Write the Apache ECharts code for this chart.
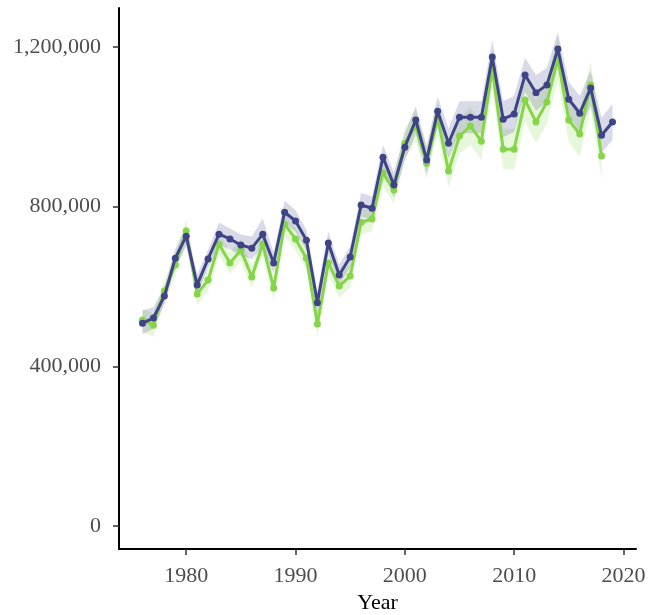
<!DOCTYPE html>
<html>
<head>
<meta charset="utf-8">
<script src="https://cdn.jsdelivr.net/npm/echarts@6/dist/echarts.min.js"></script>
<style>
html,body{margin:0;padding:0;background:#fff;}
#chart{width:650px;height:615px;}
</style>
</head>
<body>
<div id="chart"></div>
<script>
const years = [1976,1977,1978,1979,1980,1981,1982,1983,1984,1985,1986,1987,1988,1989,1990,1991,1992,1993,1994,1995,1996,1997,1998,1999,2000,2001,2002,2003,2004,2005,2006,2007,2008,2009,2010,2011,2012,2013,2014,2015,2016,2017,2018,2019];

const blueValues = [508000,521000,576000,671000,726000,604000,669000,731000,719000,704000,696000,731000,659000,786000,764000,716000,559000,709000,629000,674000,804000,796000,924000,854000,949000,1017000,917000,1039000,959000,1024000,1024000,1024000,1175000,1019000,1032000,1130000,1085000,1105000,1195000,1069000,1034000,1097000,979000,1012000];
const blueLow = [480000,495000,555000,648000,700000,580000,647000,703000,693000,677000,668000,700000,632000,757000,737000,690000,530000,682000,603000,648000,775000,766000,893000,822000,915000,982000,882000,1002000,922000,984000,984000,984000,1133000,974000,987000,1087000,1040000,1062000,1153000,1026000,990000,1053000,935000,967000];
const blueHigh = [540000,548000,597000,694000,752000,630000,692000,760000,745000,730000,725000,770000,686000,815000,791000,742000,588000,737000,655000,700000,834000,826000,955000,886000,983000,1052000,952000,1076000,996000,1064000,1064000,1064000,1217000,1064000,1077000,1173000,1130000,1148000,1237000,1112000,1078000,1141000,1023000,1057000];

const greenValues = [516000,503000,589000,654000,739000,581000,616000,706000,659000,691000,624000,706000,596000,756000,719000,671000,506000,659000,601000,626000,761000,769000,884000,842000,959000,1002000,909000,1022000,889000,977000,1002000,964000,1145000,944000,944000,1067000,1012000,1062000,1170000,1017000,982000,1105000,927000];
const greenLow = [488000,474000,562000,626000,710000,553000,589000,678000,631000,663000,596000,677000,567000,727000,690000,642000,476000,630000,572000,597000,730000,738000,851000,808000,922000,963000,870000,982000,848000,932000,955000,917000,1095000,893000,893000,1013000,958000,1008000,1114000,961000,925000,1047000,870000];
const greenHigh = [544000,532000,616000,682000,768000,609000,643000,734000,687000,719000,652000,735000,625000,785000,748000,700000,536000,688000,630000,655000,792000,800000,917000,876000,996000,1041000,948000,1062000,930000,1022000,1049000,1011000,1195000,995000,995000,1121000,1066000,1116000,1226000,1073000,1039000,1163000,984000];

const yTicks = [0, 400000, 800000, 1200000];
const xTicks = [1980, 1990, 2000, 2010, 2020];

const BLUE = '#3F4487';
const GREEN = '#86D549';

function bandSeries(low, high, fill, z) {
  const n = low.length;
  return {
    type: 'custom',
    silent: true,
    z: z,
    clip: true,
    data: low.map((v, i) => [years[i], low[i], high[i]]),
    encode: { x: 0, y: [1, 2] },
    renderItem: function (params, api) {
      if (params.dataIndex !== 0) return null;
      const pts = [];
      for (let i = 0; i < n; i++) pts.push(api.coord([years[i], high[i]]));
      for (let i = n - 1; i >= 0; i--) pts.push(api.coord([years[i], low[i]]));
      return { type: 'polygon', shape: { points: pts }, style: { fill: fill, stroke: null } };
    }
  };
}

function lineSeries(vals, color, z) {
  return {
    type: 'line',
    z: z,
    data: vals.map((v, i) => [years[i], v]),
    symbol: 'circle',
    symbolSize: 7,
    showSymbol: true,
    lineStyle: { color: color, width: 3 },
    itemStyle: { color: color },
    emphasis: { disabled: true },
    animation: false
  };
}

const fmt = v => v.toLocaleString('en-US');

const chart = echarts.init(document.getElementById('chart'), null, { renderer: 'canvas' });
chart.setOption({
  animation: false,
  backgroundColor: '#ffffff',
  grid: { left: 119, right: 14, top: 8, bottom: 66, containLabel: false, outerBoundsMode: 'none' },
  xAxis: {
    type: 'value',
    min: 1973.85,
    max: 2021.15,
    name: 'Year',
    nameLocation: 'middle',
    nameGap: 41,
    nameTextStyle: { color: '#000', fontFamily: 'Liberation Serif', fontSize: 22 },
    axisLine: { show: true, onZero: false, lineStyle: { color: '#000', width: 2 } },
    axisTick: { show: true, length: 6, lineStyle: { color: '#333', width: 1.5 }, customValues: xTicks },
    axisLabel: { color: '#4d4d4d', fontFamily: 'Liberation Serif', fontSize: 22, margin: 16, customValues: xTicks, formatter: v => String(v) },
    splitLine: { show: false }
  },
  yAxis: {
    type: 'value',
    min: -57600,
    max: 1297600,
    axisLine: { show: true, onZero: false, lineStyle: { color: '#000', width: 2 } },
    axisTick: { show: true, length: 6, lineStyle: { color: '#333', width: 1.5 }, customValues: yTicks },
    axisLabel: { color: '#4d4d4d', fontFamily: 'Liberation Serif', fontSize: 22, margin: 18, customValues: yTicks, formatter: v => fmt(v) },
    splitLine: { show: false }
  },
  series: [
    bandSeries(greenLow, greenHigh, 'rgba(134,213,73,0.2)', 1),
    bandSeries(blueLow, blueHigh, 'rgba(63,68,135,0.2)', 1),
    lineSeries(greenValues, GREEN, 3),
    lineSeries(blueValues, BLUE, 4)
  ]
});
</script>
</body>
</html>
